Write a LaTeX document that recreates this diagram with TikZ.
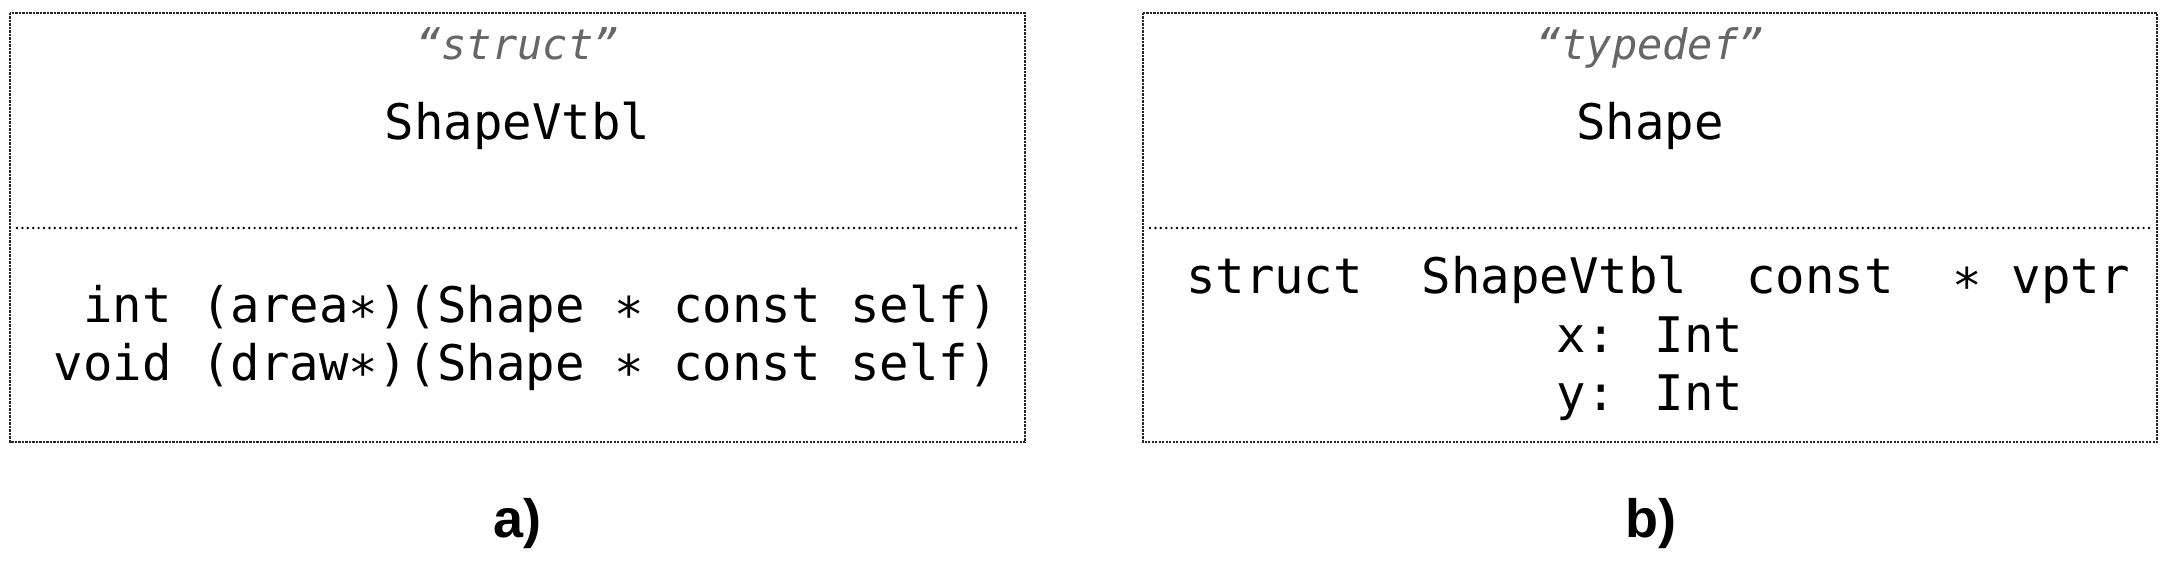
\documentclass[tikz,border=0pt]{standalone}
\usepackage{fontspec}
\newfontfamily\codefont{DejaVu Sans Mono}
\newfontfamily\labfont{Liberation Sans}
\begin{document}
\begin{tikzpicture}[x=1pt,y=-1pt,
  boxline/.style={draw=black!85, line width=1.2pt, dash pattern=on 2.2pt off 1.3pt},
  divline/.style={draw=black, line width=2.7pt, line cap=round, dash pattern=on 0pt off 5.4pt},
  stereo/.style={inner sep=0pt, anchor=base, text=black!60, font=\codefont\itshape\fontsize{42}{50}\selectfont},
  title/.style={inner sep=0pt, anchor=base, font=\codefont\fontsize{49}{58}\selectfont},
  code/.style={inner sep=0pt, font=\codefont\fontsize{49}{58}\selectfont},
  lab/.style={inner sep=0pt, anchor=base, font=\labfont\bfseries\fontsize{54}{60}\selectfont}]
\useasboundingbox[fill=white] (0,0) rectangle (2174,572);
% box a
\draw[boxline] (10,13) rectangle (1025,442);
\draw[divline] (17,228) -- (1020,228);
\node[stereo] (stA) at (517.5,60) {“struct”};
\node[title] (nmA) at (517.5,140) {ShapeVtbl};
\node[code, anchor=base east] (l1) at (998,322) {int (area∗)(Shape ∗ const self)};
\node[code, anchor=base east] (l2) at (998,380) {void (draw∗)(Shape ∗ const self)};
\node[lab] (la) at (517.5,537) {a)};
% box b
\draw[boxline] (1143,13) rectangle (2157,442);
\draw[divline] (1150,228) -- (2152,228);
\node[stereo] (stB) at (1650,60) {“typedef”};
\node[title] (nmB) at (1650,140) {Shape};
\node[code, anchor=base] (r1) at (1658,293) {struct\ \ ShapeVtbl\ \ const\ \ ∗ vptr};
\node[code, anchor=base] (r2) at (1650,352) {x: Int};
\node[code, anchor=base] (r3) at (1650,410) {y: Int};
\node[lab] (lb) at (1651,537) {b)};
\end{tikzpicture}
\end{document}
